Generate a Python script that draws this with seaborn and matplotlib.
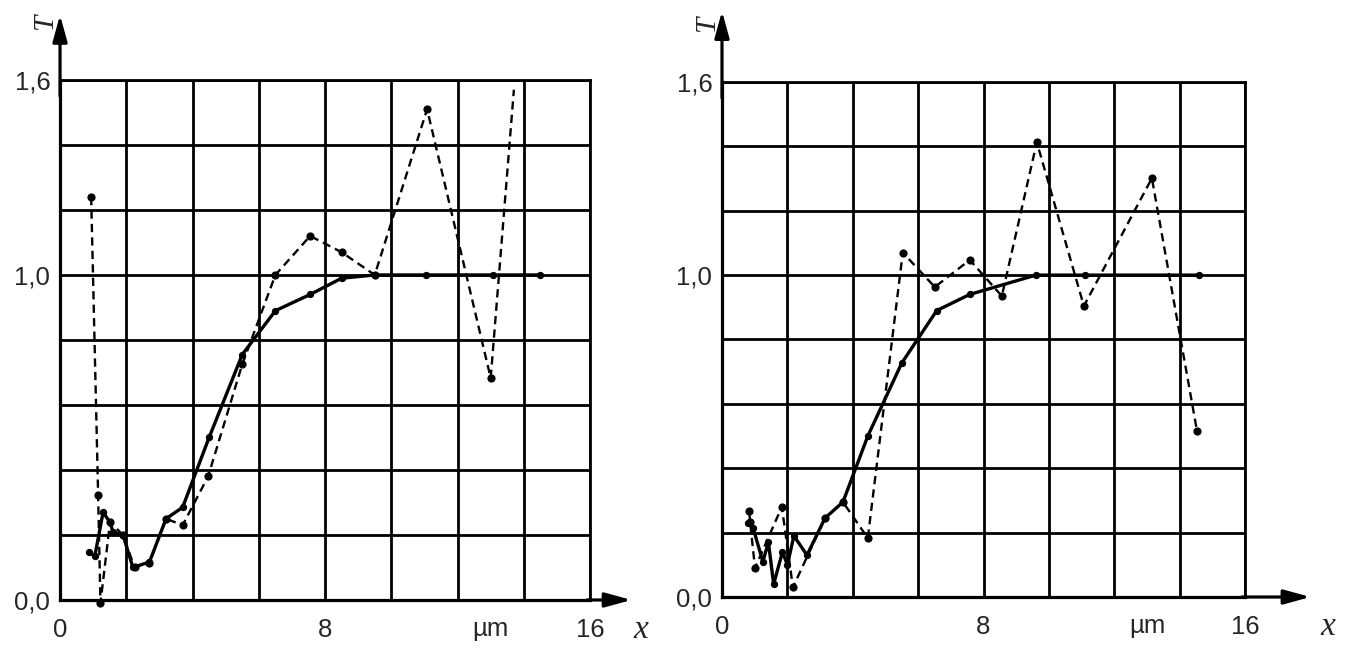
import numpy as np
import pandas as pd
import matplotlib
matplotlib.use("Agg")
import matplotlib.pyplot as plt
import seaborn as sns

sns.set_theme(style="white")
plt.rcParams["font.family"] = ["Liberation Sans", "DejaVu Sans"]

# ---- left panel ----
left_solid_x = [0.88, 1.05, 1.30, 1.50, 1.60, 1.90, 2.20, 2.70, 3.20, 3.70, 4.50, 5.50, 6.50, 7.55, 8.50, 9.50, 11.05, 13.07, 14.50]
left_solid_y = [0.148, 0.135, 0.27, 0.24, 0.21, 0.20, 0.10, 0.117, 0.25, 0.285, 0.50, 0.755, 0.89, 0.94, 0.99, 1.00, 1.00, 1.00, 1.00]

left_dash_x = [0.94, 1.15, 1.22, 1.51, 1.90, 2.25, 2.70, 3.20, 3.70, 4.47, 5.50, 6.50, 7.55, 8.50, 9.50, 11.08, 13.00, 13.70]
left_dash_y = [1.24, 0.323, -0.01, 0.24, 0.20, 0.10, 0.115, 0.25, 0.23, 0.38, 0.725, 1.00, 1.12, 1.07, 1.00, 1.51, 0.683, 1.57]
left_dash_marked = [True] * 17 + [False]

# ---- right panel ----
right_solid_x = [0.80, 0.95, 1.25, 1.42, 1.58, 1.85, 2.00, 2.20, 2.60, 3.15, 3.70, 4.46, 5.50, 6.57, 7.58, 9.60, 11.10, 14.60]
right_solid_y = [0.23, 0.215, 0.11, 0.17, 0.04, 0.14, 0.10, 0.19, 0.13, 0.245, 0.295, 0.50, 0.727, 0.89, 0.94, 1.00, 1.00, 1.00]

right_dash_x = [0.83, 0.86, 1.01, 1.83, 2.17, 3.15, 3.70, 4.46, 5.53, 6.51, 7.58, 8.56, 9.63, 11.07, 13.15, 14.53]
right_dash_y = [0.267, 0.233, 0.09, 0.28, 0.03, 0.245, 0.295, 0.183, 1.07, 0.963, 1.047, 0.935, 1.413, 0.904, 1.301, 0.516]

x_ticks = np.arange(0, 17, 2)
y_ticks = np.round(np.arange(0, 1.61, 0.2), 1)
x_labels = {0: "0", 8: "8", 16: "16"}
y_labels = {0.0: "0,0", 1.0: "1,0", 1.6: "1,6"}
unit_label = "µm"

fig = plt.figure(figsize=(13.46, 6.48), dpi=100)
ax_l = fig.add_axes([0.0446, 0.0741, 0.3938, 0.8025])
ax_r = fig.add_axes([0.5364, 0.0787, 0.3886, 0.7948])


def draw_panel(ax, sx, sy, dx, dy):
    solid = pd.DataFrame({"x": sx, "y": sy})
    dashed = pd.DataFrame({"x": dx, "y": dy})
    sns.lineplot(data=solid, x="x", y="y", sort=False, estimator=None, ax=ax,
                 color="black", lw=2.4, marker="o", markersize=4.5,
                 markeredgecolor="black", markerfacecolor="black", clip_on=False, zorder=5)
    sns.lineplot(data=dashed, x="x", y="y", sort=False, estimator=None, ax=ax,
                 color="black", lw=1.7, linestyle=(0, (3.5, 2.2)), marker=None,
                 clip_on=False, zorder=4)
    return ax


draw_panel(ax_l, left_solid_x, left_solid_y, left_dash_x, left_dash_y)
ax_l.scatter([x for x, m in zip(left_dash_x, left_dash_marked) if m],
             [y for y, m in zip(left_dash_y, left_dash_marked) if m],
             s=24, color="black", zorder=6, clip_on=False)
draw_panel(ax_r, right_solid_x, right_solid_y, right_dash_x, right_dash_y)
ax_r.scatter(right_dash_x, right_dash_y, s=24, color="black", zorder=6, clip_on=False)

for ax, arrow_x, arrow_y, xlab_x in [(ax_l, 17.25, 1.80, 17.3), (ax_r, 18.0, 1.82, 18.3)]:
    ax.set_xlim(0, 16)
    ax.set_ylim(0, 1.6)
    ax.set_xticks(x_ticks)
    ax.set_yticks(y_ticks)
    ax.set_xticklabels([x_labels.get(int(t), "") for t in x_ticks], fontsize=18.5)
    ax.set_yticklabels([y_labels.get(float(t), "") for t in y_ticks], fontsize=18.5)
    ax.tick_params(axis="x", direction="out", length=5, width=2, color="black", pad=8)
    ax.tick_params(axis="y", direction="out", length=0, width=2, color="black", pad=7)
    ax.grid(True, color="black", linewidth=2.0)
    ax.set_axisbelow(True)
    ax.set_xlabel("")
    ax.set_ylabel("")
    for side, sp in ax.spines.items():
        sp.set_visible(True)
        sp.set_color("black")
        sp.set_linewidth(2.0)
    ax.spines["left"].set_linewidth(2.3)
    ax.spines["bottom"].set_linewidth(2.3)
    # axis arrows
    ax.annotate("", xy=(arrow_x, 0), xytext=(15.9, 0),
                arrowprops=dict(arrowstyle="-|>,head_length=0.8,head_width=0.22",
                                color="black", lw=2.3, mutation_scale=20, shrinkA=0, shrinkB=0),
                annotation_clip=False)
    ax.annotate("", xy=(0, arrow_y), xytext=(0, 1.55),
                arrowprops=dict(arrowstyle="-|>,head_length=0.8,head_width=0.22",
                                color="black", lw=2.3, mutation_scale=20, shrinkA=0, shrinkB=0),
                annotation_clip=False)
    ax.text(13.0, -0.052, unit_label, ha="center", va="top", fontsize=18.5)
    ax.text(xlab_x, -0.045, "x", ha="left", va="top", fontsize=24,
            family="Liberation Serif", style="italic")
    ax.text(-0.45, 1.78, "T", ha="center", va="center", fontsize=21,
            family="Liberation Serif", style="italic", rotation=90)

fig.savefig("out.png", dpi=100, facecolor="white")
